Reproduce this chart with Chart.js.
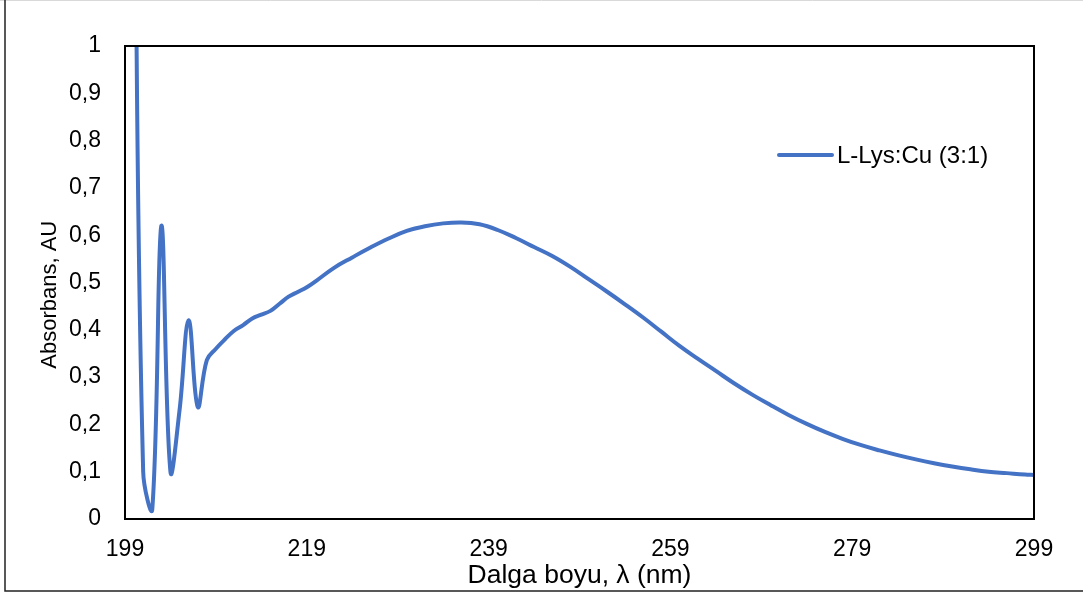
<!DOCTYPE html>
<html>
<head>
<meta charset="utf-8">
<script src="https://cdn.jsdelivr.net/npm/chart.js@4/dist/chart.umd.min.js"></script>
<style>
  html, body { margin: 0; padding: 0; background: #fff; }
  #wrap { width: 1083px; height: 597px; position: relative; }
</style>
</head>
<body>
<div id="wrap"><canvas id="c" width="1083" height="597"></canvas></div>
<script>
// Wavelength (nm)
const wavelengths = [200, 201, 202, 203, 204, 205, 206, 207, 208, 209, 210, 211, 212, 213, 214, 215, 216, 217, 218, 219, 220,
  222, 224, 226, 228, 230, 232, 234, 236, 238, 240, 242, 244, 246, 248, 250, 252, 254, 256, 258, 260,
  262, 264, 266, 268, 270, 272, 274, 276, 278, 280, 282, 284, 286, 288, 290, 292, 294, 296, 298, 299];
// Absorbance (AU)
const absorbance = [1.5, 0.1, 0.02, 0.62, 0.1, 0.23, 0.42, 0.237, 0.336, 0.36, 0.38, 0.398, 0.41, 0.424, 0.432, 0.44, 0.455, 0.47, 0.48, 0.49, 0.503,
  0.531, 0.553, 0.574, 0.593, 0.609, 0.619, 0.625, 0.627, 0.623, 0.611, 0.594, 0.575, 0.556, 0.533, 0.507, 0.481, 0.454, 0.426, 0.396, 0.366,
  0.339, 0.313, 0.287, 0.263, 0.241, 0.220, 0.201, 0.184, 0.169, 0.156, 0.145, 0.135, 0.126, 0.118, 0.111, 0.105, 0.100, 0.097, 0.094, 0.093];
const seriesName = 'L-Lys:Cu (3:1)';
const xTickValues = [199, 219, 239, 259, 279, 299];
const yTickValues = [0, 0.1, 0.2, 0.3, 0.4, 0.5, 0.6, 0.7, 0.8, 0.9, 1];
const yTickLabels = ['0', '0,1', '0,2', '0,3', '0,4', '0,5', '0,6', '0,7', '0,8', '0,9', '1'];
const xTitle = 'Dalga boyu, λ (nm)';
const yTitle = 'Absorbans, AU';

const FONT = '"Liberation Sans", Arial, sans-serif';
const LINE_COLOR = '#4472C4';

const points = wavelengths.map((w, i) => ({ x: w, y: absorbance[i] }));

const framePlugin = {
  id: 'frame',
  beforeDraw(chart) {
    const ctx = chart.ctx;
    ctx.save();
    ctx.fillStyle = '#fff';
    ctx.fillRect(0, 0, chart.width, chart.height);
    ctx.restore();
  },
  afterDraw(chart) {
    const ctx = chart.ctx;
    const a = chart.chartArea;
    ctx.save();
    // outer frame
    ctx.strokeStyle = '#d9d9d9';
    ctx.lineWidth = 1;
    ctx.beginPath();
    ctx.moveTo(0, 0.5); ctx.lineTo(chart.width, 0.5);
    ctx.stroke();
    ctx.strokeStyle = '#222';
    ctx.lineWidth = 1.5;
    ctx.beginPath();
    ctx.moveTo(5, 0); ctx.lineTo(5, 591); ctx.lineTo(chart.width, 591);
    ctx.stroke();
    // plot area border
    ctx.strokeStyle = '#000';
    ctx.lineWidth = 2;
    ctx.strokeRect(a.left, a.top, a.right - a.left, a.bottom - a.top);
    // legend
    const ly = 155;
    ctx.strokeStyle = LINE_COLOR;
    ctx.lineWidth = 4;
    ctx.lineCap = 'round';
    ctx.beginPath();
    ctx.moveTo(779, ly); ctx.lineTo(832, ly);
    ctx.stroke();
    ctx.fillStyle = '#000';
    ctx.font = '24px ' + FONT;
    ctx.textAlign = 'left';
    ctx.textBaseline = 'middle';
    ctx.fillText(seriesName, 837, ly + 1);
    ctx.restore();
  }
};

new Chart(document.getElementById('c'), {
  type: 'line',
  data: {
    datasets: [{
      label: seriesName,
      data: points,
      borderColor: LINE_COLOR,
      backgroundColor: LINE_COLOR,
      borderWidth: 4,
      pointRadius: 0,
      tension: 0.4,
      fill: false
    }]
  },
  options: {
    responsive: false,
    animation: false,
    events: [],
    layout: { padding: { left: 0, top: 46, right: 49, bottom: 0 } },
    plugins: {
      legend: { display: false },
      tooltip: { enabled: false },
      title: { display: false }
    },
    scales: {
      x: {
        type: 'linear',
        min: 199,
        max: 299,
        grid: { display: false },
        border: { display: false },
        afterBuildTicks: s => { s.ticks = xTickValues.map(v => ({ value: v })); },
        afterFit: s => { s.height = 78; },
        ticks: {
          padding: 9,
          color: '#000',
          font: { family: FONT, size: 23 },
          maxRotation: 0,
          autoSkip: false,
          callback: v => String(v)
        },
        title: {
          display: true,
          text: xTitle,
          color: '#000',
          font: { family: FONT, size: 26.5 },
          padding: { top: 0, bottom: 5 }
        }
      },
      y: {
        type: 'linear',
        min: 0,
        max: 1,
        grid: { display: false },
        border: { display: false },
        afterBuildTicks: s => { s.ticks = yTickValues.map(v => ({ value: v })); },
        afterFit: s => { s.width = 125; },
        ticks: {
          padding: 16,
          color: '#000',
          font: { family: FONT, size: 23 },
          autoSkip: false,
          callback: (v, i) => yTickLabels[i]
        },
        title: {
          display: true,
          text: yTitle + '    ',
          color: '#000',
          font: { family: FONT, size: 22 },
          padding: { top: 37, bottom: 0 }
        }
      }
    }
  },
  plugins: [framePlugin]
});
</script>
</body>
</html>
